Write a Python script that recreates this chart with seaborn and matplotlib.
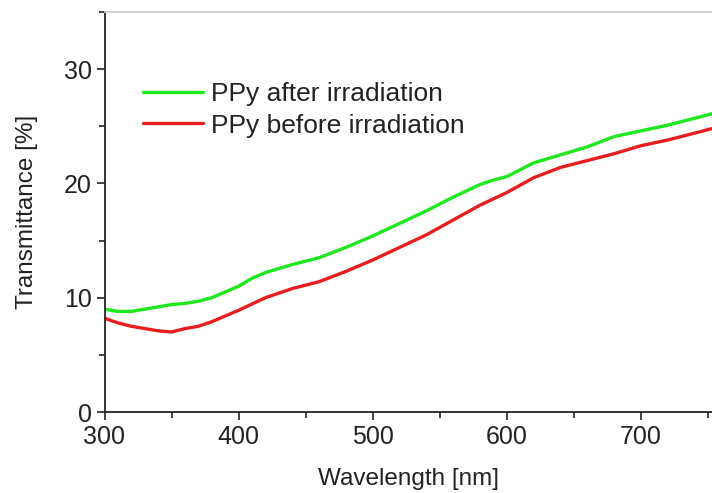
import matplotlib
matplotlib.use("Agg")
import matplotlib.pyplot as plt
import seaborn as sns
import pandas as pd
import numpy as np
from matplotlib.ticker import MultipleLocator

wl_after = [300, 310, 320, 330, 340, 350, 360, 370, 380, 390, 400, 410, 420, 440, 460, 480,
            500, 520, 540, 560, 580, 590, 600, 620, 640, 660, 680, 700, 720, 740, 753]
t_after = [9.0, 8.8, 8.8, 9.0, 9.2, 9.4, 9.5, 9.7, 10.0, 10.5, 11.0, 11.7, 12.2, 12.9, 13.5, 14.4,
           15.4, 16.5, 17.6, 18.8, 19.9, 20.3, 20.6, 21.8, 22.5, 23.2, 24.1, 24.6, 25.1, 25.7, 26.1]

wl_before = [300, 310, 320, 330, 340, 350, 360, 370, 380, 390, 400, 420, 440, 460, 480,
             500, 520, 540, 560, 580, 600, 620, 640, 660, 680, 700, 720, 740, 753]
t_before = [8.2, 7.8, 7.5, 7.3, 7.1, 7.0, 7.3, 7.5, 7.9, 8.4, 8.9, 10.0, 10.8, 11.4, 12.3,
            13.3, 14.4, 15.5, 16.8, 18.1, 19.2, 20.5, 21.4, 22.0, 22.6, 23.3, 23.8, 24.4, 24.8]

label_after = "PPy after irradiation"
label_before = "PPy before irradiation"

df = pd.concat([
    pd.DataFrame({"Wavelength": wl_after, "T": t_after, "Sample": label_after}),
    pd.DataFrame({"Wavelength": wl_before, "T": t_before, "Sample": label_before}),
])

sns.set_style("white")
plt.rcParams["font.family"] = ["Liberation Sans", "DejaVu Sans"]

fig = plt.figure(figsize=(7.12, 4.93), dpi=100)
ax = fig.add_axes([104.5 / 712, 81 / 493, (712 - 104.5) / 712, 400 / 493])

sns.lineplot(data=df, x="Wavelength", y="T", hue="Sample",
             palette={label_after: "#1ee81e", label_before: "#e81e1e"},
             linewidth=2.4, ax=ax, sort=True, estimator=None)

ax.set_xlim(300, 753)
ax.set_ylim(0, 35)
ax.xaxis.set_major_locator(MultipleLocator(100))
ax.xaxis.set_minor_locator(MultipleLocator(50))
ax.yaxis.set_major_locator(MultipleLocator(10))
ax.yaxis.set_minor_locator(MultipleLocator(5))
ax.tick_params(axis="both", which="major", direction="out", length=6, width=1.2,
               labelsize=18, color="#222222", labelcolor="#222222", pad=3,
               bottom=True, left=True)
ax.tick_params(axis="both", which="minor", direction="out", length=4, width=1.2,
               color="#222222", bottom=True, left=True)

for s in ["left", "bottom"]:
    ax.spines[s].set_color("#222222")
    ax.spines[s].set_linewidth(1.3)
ax.spines["top"].set_color("#cccccc")
ax.spines["top"].set_linewidth(1.3)
ax.spines["right"].set_visible(False)

ax.set_xlabel("Wavelength [nm]", fontsize=17.5, color="#222222", labelpad=14)
ax.set_ylabel("Transmittance [%]", fontsize=17.5, color="#222222", labelpad=18.5)

leg = ax.legend(loc="upper left", bbox_to_anchor=(0.0235, 0.885), frameon=False,
                fontsize=19, handlelength=2.3, handletextpad=0.3, labelspacing=0.3)
for t in leg.get_texts():
    t.set_color("#222222")

fig.savefig("out.png", dpi=100)
